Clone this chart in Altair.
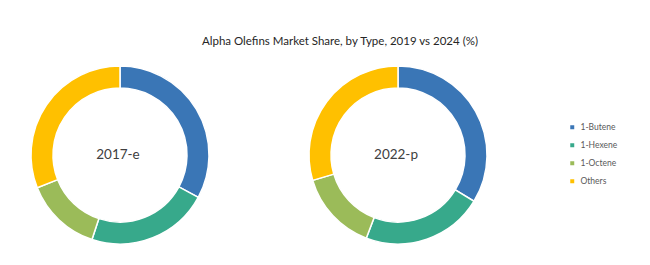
import altair as alt
import pandas as pd

types = ["1-Butene", "1-Hexene", "1-Octene", "Others"]
share_2017 = [32.9, 22.2, 13.9, 31.0]
share_2022 = [33.7, 22.1, 14.6, 29.6]
years = ["2017-e", "2022-p"]
colors = ["#3A76B6", "#37A98B", "#9BBB59", "#FFC000"]
title_text = "Alpha Olefins Market Share, by Type, 2019 vs 2024 (%)"

rows = []
for yr, vals in zip(years, [share_2017, share_2022]):
    for i, (t, v) in enumerate(zip(types, vals)):
        rows.append({"year": yr, "type": t, "share": v, "order": i})
df = pd.DataFrame(rows)


def donut(year):
    base = alt.Chart(df).transform_filter(alt.datum.year == year)
    arc = base.mark_arc(outerRadius=89, innerRadius=67, stroke="white", strokeWidth=1.5).encode(
        theta=alt.Theta("share:Q", stack=True),
        order=alt.Order("order:Q"),
        color=alt.Color(
            "type:N",
            scale=alt.Scale(domain=types, range=colors),
            legend=alt.Legend(
                title="",
                orient="none",
                legendX=548,
                legendY=68,
                symbolType="square",
                symbolSize=30,
                labelFont="Lato",
                labelFontSize=8.5,
                labelColor="#595959",
                rowPadding=6,
            ),
        ),
    )
    txt = alt.Chart(pd.DataFrame({"label": [year]})).mark_text(
        font="Lato", fontSize=13.5, color="#404040", dx=-2
    ).encode(text="label:N")
    return alt.layer(arc, txt).properties(width=200, height=200)


chart = alt.hconcat(donut(years[0]), donut(years[1]), spacing=78).properties(
    title=alt.TitleParams(
        title_text, font="Lato", fontSize=11.5, fontWeight="normal", color="#262626",
        anchor="middle", dx=21, offset=8,
    ),
    padding={"left": 20, "top": 35, "right": 0, "bottom": 0},
).configure_view(stroke=None).configure(background="white")

chart.save("out.html", embed_options={"renderer": "svg", "actions": False})
